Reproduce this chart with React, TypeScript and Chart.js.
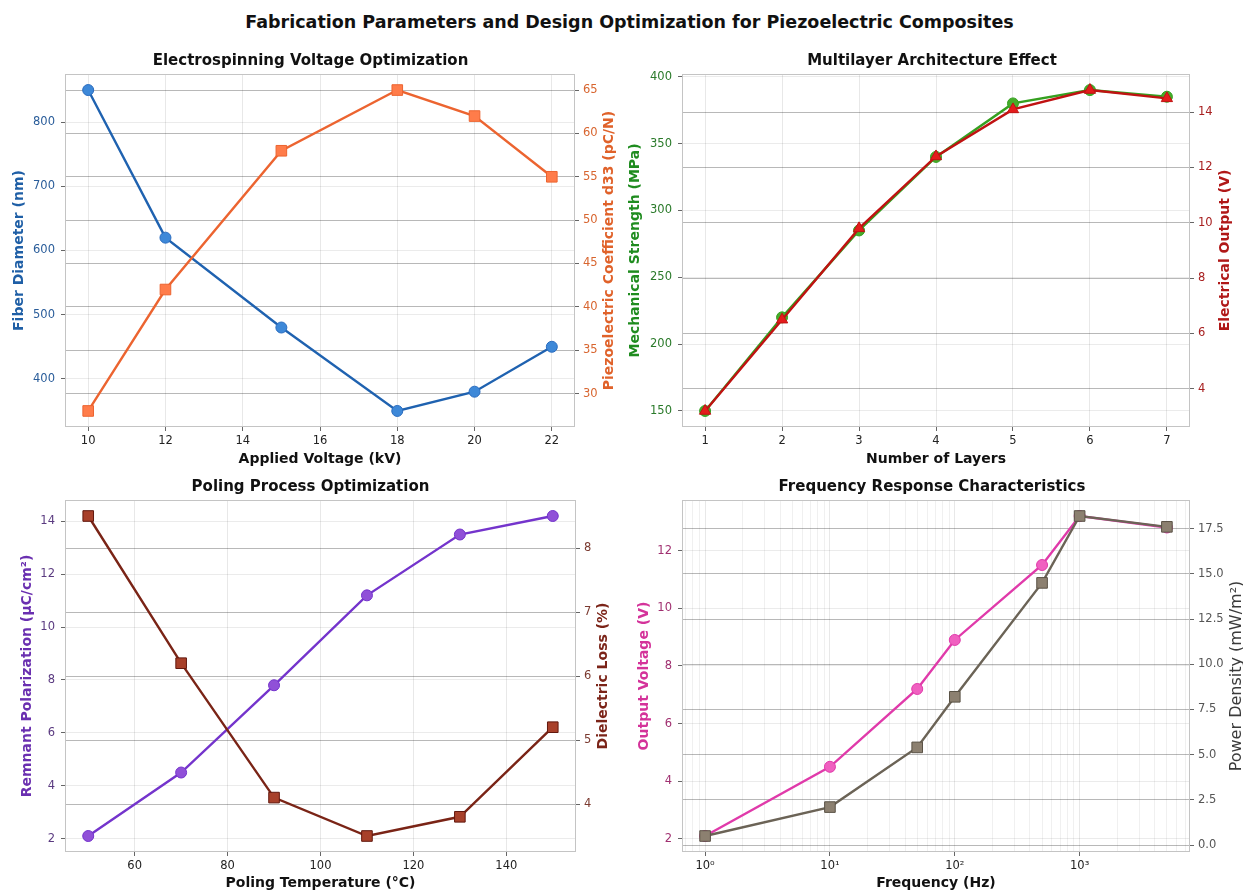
import React, { useEffect, useRef } from 'react';
import { Chart, registerables } from 'chart.js';
Chart.register(...registerables);

// ---------- DATA ----------
const voltageKV = [10, 12, 15, 18, 20, 22];
const fiberDiameter = [850, 620, 480, 350, 380, 450];
const d33Coeff = [28, 42, 58, 65, 62, 55];
const voltageTicks = [10, 12, 14, 16, 18, 20, 22];
const fiberTicks = [400, 500, 600, 700, 800];
const d33Ticks = [30, 35, 40, 45, 50, 55, 60, 65];

const layers = [1, 2, 3, 4, 5, 6, 7];
const mechStrength = [150, 220, 285, 340, 380, 390, 385];
const elecOutput = [3.2, 6.5, 9.8, 12.4, 14.1, 14.8, 14.5];
const strengthTicks = [150, 200, 250, 300, 350, 400];
const outputTicks = [4, 6, 8, 10, 12, 14];

const polingTemp = [50, 70, 90, 110, 130, 150];
const remnantPol = [2.1, 4.5, 7.8, 11.2, 13.5, 14.2];
const dielLoss = [8.5, 6.2, 4.1, 3.5, 3.8, 5.2];
const tempTicks = [60, 80, 100, 120, 140];
const polTicks = [2, 4, 6, 8, 10, 12, 14];
const lossTicks = [4, 5, 6, 7, 8];

const frequencyHz = [1, 10, 50, 100, 500, 1000, 5000];
const outVoltage = [2.1, 4.5, 7.2, 8.9, 11.5, 13.2, 12.8];
const powerDensity = [0.5, 2.1, 5.4, 8.2, 14.5, 18.2, 17.6];
const freqMajorTicks = [1, 10, 100, 1000];
const freqMajorLabels = ['10⁰', '10¹', '10²', '10³'];
const voltTicks = [2, 4, 6, 8, 10, 12];
const powerTicks = [0, 2.5, 5, 7.5, 10, 12.5, 15, 17.5];

const FONT = "'DejaVu Sans', 'Liberation Sans', sans-serif";

function padRange(vals: number[]) {
  const mn = Math.min(...vals), mx = Math.max(...vals), r = mx - mn;
  return { min: mn - 0.05 * r, max: mx + 0.05 * r };
}
function padLogRange(vals: number[]) {
  const l = vals.map((v) => Math.log10(v));
  const mn = Math.min(...l), mx = Math.max(...l), r = mx - mn;
  return { min: Math.pow(10, mn - 0.05 * r), max: Math.pow(10, mx + 0.05 * r) };
}
function logMinorTicks(min: number, max: number) {
  const out: number[] = [];
  for (let e = -1; e <= 4; e++) {
    for (let m = 1; m <= 9; m++) {
      const v = m * Math.pow(10, e);
      if (v >= min && v <= max) out.push(v);
    }
  }
  return out;
}

const framePlugin = {
  id: 'frame',
  afterDatasetsDraw(chart: any, _args: any, opts: any) {
    const { ctx, chartArea: a } = chart;
    ctx.save();
    ctx.strokeStyle = '#c4c4c4';
    ctx.lineWidth = 1;
    ctx.strokeRect(Math.round(a.left) + 0.5, Math.round(a.top) + 0.5, Math.round(a.width) - 1, Math.round(a.height) - 1);
    if (opts && opts.rightTitle) {
      ctx.translate(opts.rightX, (a.top + a.bottom) / 2);
      ctx.rotate(-Math.PI / 2);
      ctx.font = (opts.weight || 'bold') + ' ' + (opts.size || 14) + 'px ' + FONT;
      ctx.fillStyle = opts.rightColor;
      ctx.textAlign = 'center';
      ctx.textBaseline = 'middle';
      ctx.fillText(opts.rightTitle, 0, 0);
    }
    ctx.restore();
  },
};

type Panel = {
  title: string;
  xs: number[];
  xLog?: boolean;
  xTicks: number[];
  xLabels?: string[];
  xTitle: string;
  y1: number[];
  y1Ticks: number[];
  y1Title: string;
  y1Color: string;
  y1TickColor: string;
  y2: number[];
  y2Ticks: number[];
  y2Title: string;
  y2Color: string;
  y2TickColor: string;
  y2Weight?: string;
  y2Size?: number;
  y2Fmt?: (v: number) => string;
  s1: any;
  s2: any;
  leftW: number;
  rightW: number;
  bottomH: number;
  leftTitlePad: number;
  xTitlePad: number;
  rightX: number;
};

function buildConfig(p: Panel): any {
  const xr = p.xLog ? padLogRange(p.xs) : padRange(p.xs);
  const r1 = padRange(p.y1);
  const r2 = padRange(p.y2);
  const tickFont = { family: FONT, size: 11.5 };
  const titleFont = { family: FONT, size: 14, weight: 'bold' as const };
  const minor = p.xLog ? logMinorTicks(xr.min, xr.max) : [];
  return {
    type: 'line',
    data: {
      datasets: [
        {
          data: p.xs.map((x, i) => ({ x, y: p.y1[i] })),
          yAxisID: 'y',
          order: 1,
          borderWidth: 2.4,
          pointBorderWidth: 1,
          ...p.s1,
        },
        {
          data: p.xs.map((x, i) => ({ x, y: p.y2[i] })),
          yAxisID: 'y2',
          order: 0,
          borderWidth: 2.4,
          pointBorderWidth: 1,
          ...p.s2,
        },
      ],
    },
    options: {
      responsive: false,
      animation: false,
      events: [],
      layout: { padding: 0 },
      plugins: {
        legend: { display: false },
        tooltip: { enabled: false },
        title: {
          display: true,
          text: p.title,
          color: '#111',
          font: { family: FONT, size: 15, weight: 'bold' },
          padding: { top: 12, bottom: 4 },
        },
        frame: { rightTitle: p.y2Title, rightColor: p.y2Color, rightX: p.rightX, weight: p.y2Weight, size: p.y2Size },
      },
      scales: {
        x: {
          type: p.xLog ? 'logarithmic' : 'linear',
          min: xr.min,
          max: xr.max,
          afterBuildTicks: (s: any) => {
            const vals = p.xLog ? minor : p.xTicks;
            s.ticks = vals.map((v) => ({ value: v, major: p.xTicks.includes(v) }));
          },
          afterFit: (s: any) => {
            s.height = p.bottomH;
          },
          ticks: {
            color: '#222',
            font: tickFont,
            padding: 3,
            maxRotation: 0,
            autoSkip: false,
            callback: (v: number) => {
              const idx = p.xTicks.indexOf(v);
              if (idx < 0) return '';
              return p.xLabels ? p.xLabels[idx] : String(v);
            },
          },
          grid: {
            color: (c: any) => (c.tick && c.tick.major ? 'rgba(0,0,0,0.09)' : 'rgba(0,0,0,0.06)'),
            tickColor: (c: any) => (c.tick && c.tick.major ? '#666' : 'rgba(0,0,0,0)'),
            tickLength: 4,
          },
          border: { display: false },
          title: { display: true, text: p.xTitle, color: '#111', font: titleFont, padding: { top: 0, bottom: p.xTitlePad } },
        },
        y: {
          position: 'left',
          min: r1.min,
          max: r1.max,
          afterBuildTicks: (s: any) => {
            s.ticks = p.y1Ticks.map((v) => ({ value: v }));
          },
          afterFit: (s: any) => {
            s.width = p.leftW;
          },
          ticks: { color: p.y1TickColor, font: tickFont, padding: 6 },
          grid: { color: 'rgba(0,0,0,0.08)', tickColor: '#666', tickLength: 4 },
          border: { display: false },
          title: { display: true, text: p.y1Title, color: p.y1Color, font: titleFont, padding: { top: p.leftTitlePad, bottom: 0 } },
        },
        y2: {
          position: 'right',
          min: r2.min,
          max: r2.max,
          afterBuildTicks: (s: any) => {
            s.ticks = p.y2Ticks.map((v) => ({ value: v }));
          },
          afterFit: (s: any) => {
            s.width = p.rightW;
          },
          ticks: {
            color: p.y2TickColor,
            font: tickFont,
            padding: 4,
            callback: (v: number) => (p.y2Fmt ? p.y2Fmt(v) : String(v)),
          },
          grid: { color: 'rgba(0,0,0,0.28)', tickColor: '#666', tickLength: 4 },
          border: { display: false },
          title: { display: false },
        },
      },
    },
    plugins: [framePlugin],
  };
}

const panels: { left: number; top: number; w: number; h: number; p: Panel }[] = [
  {
    left: 0, top: 40, w: 621, h: 440,
    p: {
      title: 'Electrospinning Voltage Optimization',
      xs: voltageKV, xTicks: voltageTicks, xTitle: 'Applied Voltage (kV)',
      y1: fiberDiameter, y1Ticks: fiberTicks, y1Title: 'Fiber Diameter (nm)', y1Color: '#1f5fa6', y1TickColor: '#2a5d9a',
      y2: d33Coeff, y2Ticks: d33Ticks, y2Title: 'Piezoelectric Coefficient d33 (pC/N)', y2Color: '#e0622a', y2TickColor: '#d8652f',
      s1: { borderColor: '#1f62b0', backgroundColor: '#3d88d8', pointBackgroundColor: '#3d88d8', pointBorderColor: '#2a6cbf', pointStyle: 'circle', pointRadius: 5.5 },
      s2: { borderColor: '#ec6430', backgroundColor: '#ff7c4a', pointBackgroundColor: '#ff7c4a', pointBorderColor: '#ec6430', pointStyle: 'rect', pointRadius: 7.5 },
      leftW: 65, rightW: 46, bottomH: 53, leftTitlePad: 10.6, xTitlePad: 12.6, rightX: 609,
    },
  },
  {
    left: 621, top: 40, w: 622, h: 440,
    p: {
      title: 'Multilayer Architecture Effect',
      xs: layers, xTicks: layers, xTitle: 'Number of Layers',
      y1: mechStrength, y1Ticks: strengthTicks, y1Title: 'Mechanical Strength (MPa)', y1Color: '#1f8c1f', y1TickColor: '#2a7a2a',
      y2: elecOutput, y2Ticks: outputTicks, y2Title: 'Electrical Output (V)', y2Color: '#b01818', y2TickColor: '#a82020',
      s1: { borderColor: '#35a020', backgroundColor: '#45ad2a', pointBackgroundColor: '#45ad2a', pointBorderColor: '#35a020', pointStyle: 'circle', pointRadius: 5.5 },
      s2: { borderColor: '#c01212', backgroundColor: '#e41c1c', pointBackgroundColor: '#e41c1c', pointBorderColor: '#c01212', pointStyle: 'triangle', pointRadius: 6.5 },
      leftW: 61, rightW: 53, bottomH: 53, leftTitlePad: 5.6, xTitlePad: 12.6, rightX: 604,
    },
  },
  {
    left: 0, top: 466, w: 621, h: 426,
    p: {
      title: 'Poling Process Optimization',
      xs: polingTemp, xTicks: tempTicks, xTitle: 'Poling Temperature (°C)',
      y1: remnantPol, y1Ticks: polTicks, y1Title: 'Remnant Polarization (μC/cm²)', y1Color: '#6a2fb0', y1TickColor: '#5a3a80',
      y2: dielLoss, y2Ticks: lossTicks, y2Title: 'Dielectric Loss (%)', y2Color: '#7b2418', y2TickColor: '#7b3a30',
      s1: { borderColor: '#7434cc', backgroundColor: '#9050d8', pointBackgroundColor: '#9050d8', pointBorderColor: '#7434cc', pointStyle: 'circle', pointRadius: 5.5 },
      s2: { borderColor: '#7a2416', backgroundColor: '#a8402a', pointBackgroundColor: '#a8402a', pointBorderColor: '#62180e', pointStyle: 'rect', pointRadius: 7.5 },
      leftW: 65, rightW: 45, bottomH: 40, leftTitlePad: 18.6, xTitlePad: 0, rightX: 603,
    },
  },
  {
    left: 621, top: 466, w: 622, h: 426,
    p: {
      title: 'Frequency Response Characteristics',
      xs: frequencyHz, xLog: true, xTicks: freqMajorTicks, xLabels: freqMajorLabels, xTitle: 'Frequency (Hz)',
      y1: outVoltage, y1Ticks: voltTicks, y1Title: 'Output Voltage (V)', y1Color: '#d4339a', y1TickColor: '#a03070',
      y2: powerDensity, y2Ticks: powerTicks, y2Title: 'Power Density (mW/m²)', y2Color: '#3a3a3a', y2TickColor: '#555', y2Weight: 'normal', y2Size: 16,
      y2Fmt: (v: number) => v.toFixed(1),
      s1: { borderColor: '#e03aaa', backgroundColor: '#f060c0', pointBackgroundColor: '#f060c0', pointBorderColor: '#e03aaa', pointStyle: 'circle', pointRadius: 5.5 },
      s2: { borderColor: '#6b6356', backgroundColor: '#8c8070', pointBackgroundColor: '#8c8070', pointBorderColor: '#5a5246', pointStyle: 'rect', pointRadius: 7.5 },
      leftW: 61, rightW: 53, bottomH: 40, leftTitlePad: 14.6, xTitlePad: 0, rightX: 616,
    },
  },
];

function PanelChart({ left, top, w, h, p }: { left: number; top: number; w: number; h: number; p: Panel }) {
  const ref = useRef<HTMLCanvasElement | null>(null);
  useEffect(() => {
    if (!ref.current) return;
    const chart = new Chart(ref.current, buildConfig(p));
    return () => chart.destroy();
  }, []);
  return (
    <canvas
      ref={ref}
      width={w}
      height={h}
      style={{ position: 'absolute', left, top, width: w, height: h }}
    />
  );
}

export default function App() {
  return (
    <div style={{ position: 'absolute', left: 0, top: 0, width: 1243, height: 892, background: '#fff', overflow: 'hidden' }}>
      <div
        style={{
          position: 'absolute', left: 8, top: 11, width: 1243, textAlign: 'center',
          fontFamily: FONT, fontWeight: 'bold', fontSize: 17.5, lineHeight: '22px', color: '#111',
        }}
      >
        Fabrication Parameters and Design Optimization for Piezoelectric Composites
      </div>
      {panels.map((pp, i) => (
        <PanelChart key={i} {...pp} />
      ))}
    </div>
  );
}
